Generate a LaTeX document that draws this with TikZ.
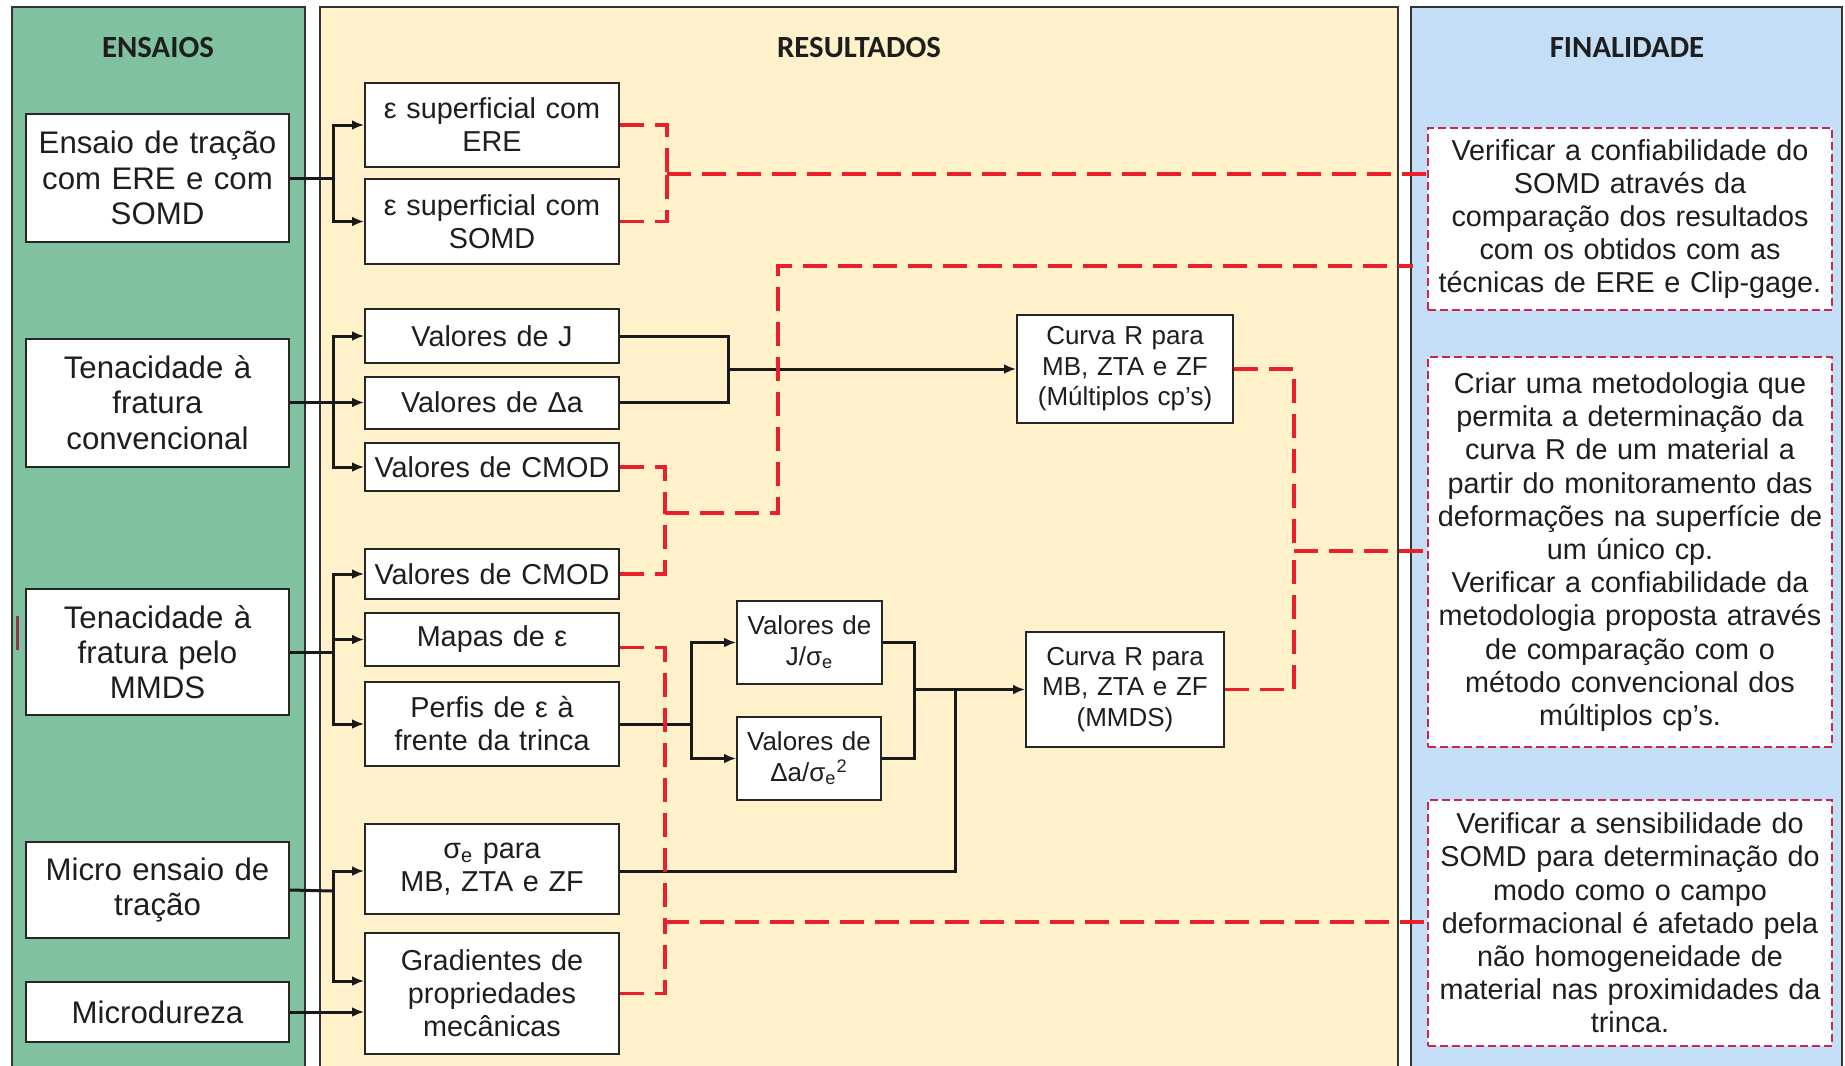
\documentclass[tikz,border=0pt]{standalone}
\usepackage{fontspec}
\setmainfont{Liberation Sans}
\newfontfamily\hdrfont{Carlito}
\usetikzlibrary{arrows.meta,calc}
\definecolor{gpanel}{HTML}{80C1A0}
\definecolor{ypanel}{HTML}{FFF2CA}
\definecolor{bpanel}{HTML}{C4DEF7}
\definecolor{rline}{HTML}{E8202A}
\definecolor{fborder}{HTML}{C8284F}
\definecolor{txt}{HTML}{1E1E1E}
\definecolor{artif}{HTML}{8B3A52}
\begin{document}
\begin{tikzpicture}[x=0.5pt,y=-0.5pt,
  panelbox/.style={draw=black!80,line width=1pt},
  boxbase/.style={draw=black!85,fill=white,line width=1pt,inner sep=0pt,align=center,text=txt},
  lbox/.style={boxbase,text width=131.5pt,font=\fontsize{15.6pt}{17.6pt}\selectfont},
  mbox/.style={boxbase,text width=127pt,font=\fontsize{14.4pt}{16.5pt}\selectfont},
  sbox/.style={boxbase,font=\fontsize{13pt}{15.3pt}\selectfont},
  fbox/.style={draw=fborder,dash pattern=on 4pt off 2pt,fill=white,line width=0.9pt,inner sep=0pt,align=center,text=txt,text width=202pt,font=\fontsize{14.4pt}{16.6pt}\selectfont},
  hdr/.style={font=\hdrfont\bfseries\fontsize{15.4pt}{17pt}\selectfont,text=txt},
  blk/.style={draw=black!90,line width=1.5pt},
  arr/.style={blk,-{Latex[length=6pt,width=5pt]}},
  rdash/.style={draw=rline,line width=1.6pt,dash pattern=on 12pt off 5.5pt},
]
\useasboundingbox (0,0) rectangle (1845,1065);
\clip (0,0) rectangle (1845,1065);
% panels
\fill[white] (0,0) rectangle (1845,1065);
\draw[panelbox,fill=gpanel] (12,7) rectangle (305,1080);
\draw[panelbox,fill=ypanel] (320,7) rectangle (1398,1080);
\draw[panelbox,fill=bpanel] (1411,7) rectangle (1842,1080);
\draw[artif,line width=1.5pt] (17,616) -- (17,650);
% headers
\node[hdr] (h1) at (158,48) {ENSAIOS};
\node[hdr] (h2) at (859,48) {RESULTADOS};
\node[hdr] (h3) at (1627,48) {FINALIDADE};
% left column
\node[lbox,minimum height=64pt] (ens1) at (157.5,178) {Ensaio de tração\\com ERE e com\\SOMD};
\node[lbox,minimum height=64pt] (ens2) at (157.5,402.5) {Tenacidade à\\fratura\\convencional};
\node[lbox,minimum height=63pt] (ens3) at (157.5,652) {Tenacidade à\\fratura pelo\\MMDS};
\node[lbox,minimum height=48pt] (ens4) at (157.5,890) {Micro ensaio de\\tração};
\node[lbox,minimum height=30pt] (ens5) at (157.5,1012) {Microdureza};
% middle column
\node[mbox,minimum height=42pt] (ra) at (492,125) {ε superficial com\\ERE};
\node[mbox,minimum height=42.5pt] (rb) at (492,221.5) {ε superficial com\\SOMD};
\node[mbox,minimum height=27pt] (rJ) at (492,336) {Valores de J};
\node[mbox,minimum height=26pt] (rDa) at (492,402.5) {Valores de Δa};
\node[mbox,minimum height=24pt] (rC1) at (492,467) {Valores de CMOD};
\node[mbox,minimum height=25pt] (rC2) at (492,574) {Valores de CMOD};
\node[mbox,minimum height=26.5pt] (rM) at (492,639.5) {Mapas de ε};
\node[mbox,minimum height=42pt] (rP) at (492,724) {Perfis de ε à\\frente da trinca};
\node[mbox,minimum height=45pt] (rS) at (492,869) {σ\textsubscript{e} para\\MB, ZTA e ZF};
\node[mbox,minimum height=60.5pt] (rG) at (492,993.5) {Gradientes de\\propriedades\\mecânicas};
% second level
\node[sbox,text width=72.5pt,minimum height=41.5pt] (rJs) at (809.5,642.5) {Valores de\\J/σ\textsubscript{e}};
\node[sbox,text width=72pt,minimum height=41.5pt] (rDs) at (809,758.5) {Valores de\\Δa/σ\textsubscript{e}\textsuperscript{2}};
\node[sbox,text width=99pt,minimum height=57.5pt] (cM) at (1125,689.5) {Curva R para\\MB, ZTA e ZF\\(MMDS)};
\node[sbox,text width=108pt,minimum height=54pt] (cC) at (1125,369) {Curva R para\\MB, ZTA e ZF\\(Múltiplos cp’s)};
% right column
\node[fbox,minimum height=91pt] (f1) at (1630,219) {Verificar a confiabilidade do\\SOMD através da\\comparação dos resultados\\com os obtidos com as\\técnicas de ERE e Clip-gage.};
\node[fbox,minimum height=195pt] (f2) at (1630,552) {Criar uma metodologia que\\permita a determinação da\\curva R de um material a\\partir do monitoramento das\\deformações na superfície de\\um único cp.\\Verificar a confiabilidade da\\metodologia proposta através\\de comparação com o\\método convencional dos\\múltiplos cp’s.};
\node[fbox,minimum height=123pt] (f3) at (1630,923) {Verificar a sensibilidade do\\SOMD para determinação do\\modo como o campo\\deformacional é afetado pela\\não homogeneidade de\\material nas proximidades da\\trinca.};
% black connectors
\coordinate (b1) at (333,178);
\coordinate (b2) at (333,402.5);
\coordinate (b3) at (333,652);
\coordinate (b4) at (333,891);
\draw[blk] (ens1.east) -- (b1);
\draw[arr] (b1) |- (ra.west);
\draw[arr] (b1) |- (rb.west);
\draw[arr] (ens2.east) -- (rDa.west);
\draw[arr] (b2) |- (rJ.west);
\draw[arr] (b2) |- (rC1.west);
\draw[blk] (ens3.east) -- (b3);
\draw[arr] (b3) |- (rC2.west);
\draw[arr] (b3) |- (rM.west);
\draw[arr] (b3) |- (rP.west);
\draw[blk] (ens4.east) -- (b4);
\draw[arr] (b4) |- ($(rS.west)+(0,2)$);
\draw[arr] (b4) |- ($(rG.west)+(0,-12.5)$);
\draw[arr] (ens5.east) -- (ens5.east -| rG.west);
\coordinate (j1) at (728,369);
\draw[blk] (rJ.east) -| (j1);
\draw[blk] (rDa.east) -| (j1);
\draw[arr] (j1) -- (cC.west);
\coordinate (p1) at (691,724);
\draw[blk] (rP.east) -- (p1);
\draw[arr] (p1) |- (rJs.west);
\draw[arr] (p1) |- (rDs.west);
\coordinate (j2) at (914,689.5);
\coordinate (j3) at (955,689.5);
\draw[blk] (rJs.east) -| (j2);
\draw[blk] (rDs.east) -| (j2);
\draw[blk] ($(rS.east)+(0,2)$) -| (j3);
\draw[arr] (j2) -- (cM.west);
% red dashed connectors
\coordinate (r1) at (667,174);
\draw[rdash] (ra.east) -| (r1);
\draw[rdash] (rb.east) -| (r1);
\draw[rdash] (r1) -- (r1 -| f1.west);
\coordinate (r2) at (665,513);
\coordinate (r2c) at (778,266);
\coordinate (r2e) at (1413,266);
\draw[rdash] (rC1.east) -| (r2);
\draw[rdash] (rC2.east) -| (r2);
\draw[rdash] (r2) -| (r2c) -- (r2e);
\coordinate (r3) at (665,922);
\draw[rdash] ($(rM.east)+(0,8)$) -| (r3);
\draw[rdash] (rG.east) -| (r3);
\draw[rdash] (r3) -- (r3 -| f3.west);
\coordinate (r4) at (1294,551);
\draw[rdash] (cC.east) -| (r4);
\draw[rdash] (cM.east) -| (r4);
\draw[rdash] (r4) -- (r4 -| f2.west);
\end{tikzpicture}
\end{document}
